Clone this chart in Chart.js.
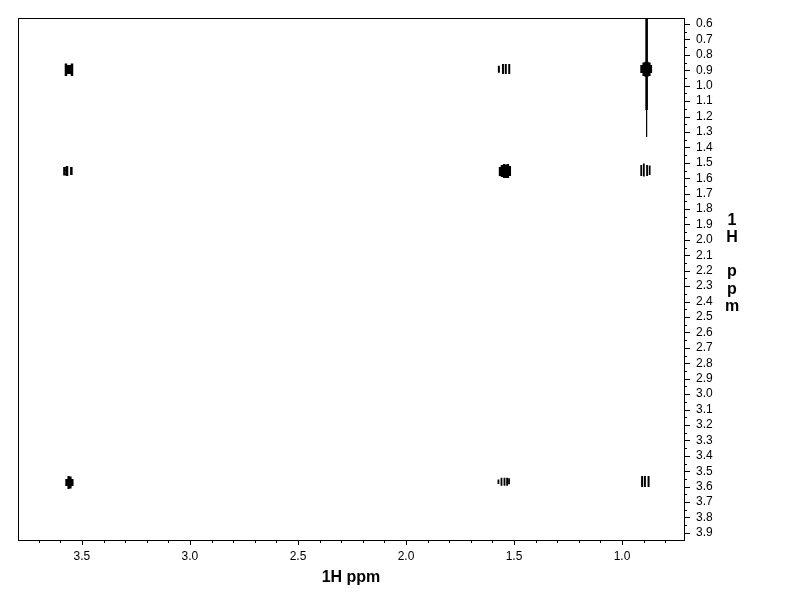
<!DOCTYPE html>
<html><head><meta charset="utf-8">
<script src="https://cdn.jsdelivr.net/npm/chart.js@4.4.1/dist/chart.umd.min.js"></script>
<style>html,body{margin:0;padding:0;background:#fff}#wrap{width:792px;height:612px;position:relative}</style>
</head><body><div id="wrap"><canvas id="c"></canvas></div>
<script>
// ---- Axis ranges (ppm) ----
const xRange = [0.713, 3.796];   // F2, reversed
const yRange = [0.561, 3.946];   // F1, reversed
const xTitle = '1H ppm';
const yTitle = '1H ppm';

// ---- Cross / diagonal peaks: contour bars [x ppm, y start ppm, y end ppm] ----
const peak356_090 = [[3.574,0.856,0.937],[3.565,0.866,0.924],[3.556,0.866,0.924],[3.546,0.856,0.937]];
const peak356_155 = [[3.581,1.527,1.582],[3.569,1.521,1.586],[3.549,1.527,1.579]];
const peak356_357 = [[3.572,3.551,3.596],[3.562,3.531,3.616],[3.553,3.535,3.612],[3.544,3.551,3.596]];
const peak154_090 = [[1.570,0.870,0.916],[1.551,0.859,0.924],[1.538,0.859,0.924],[1.522,0.859,0.924]];
const peak154_155 = [[1.565,1.527,1.586],[1.556,1.514,1.592],[1.546,1.508,1.599],[1.537,1.511,1.599],[1.528,1.508,1.599],[1.519,1.521,1.586]];
const peak154_357 = [[1.572,3.553,3.583],[1.558,3.542,3.594],[1.544,3.542,3.594],[1.532,3.542,3.594],[1.523,3.546,3.585]];
const peak089_090 = [[0.910,0.866,0.918],[0.900,0.850,0.937],[0.891,0.844,0.942],[0.882,0.844,0.942],[0.873,0.850,0.937],[0.866,0.866,0.918]];
const peak089_155 = [[0.911,1.514,1.586],[0.899,1.505,1.589],[0.884,1.514,1.586],[0.872,1.518,1.579]];
const peak089_357 = [[0.907,3.531,3.603],[0.894,3.531,3.603],[0.877,3.531,3.603]];
// t1 noise streak at 0.89 ppm
const streakThick = [[0.886,0.561,1.158]];
const streakThin  = [[0.886,1.158,1.333]];

function bars(rows){
  const out=[];
  rows.forEach(r=>{ out.push({x:r[0],y:r[1]}); out.push({x:r[0],y:r[2]}); out.push({x:r[0],y:null}); });
  return out;
}
function ds(rows,w){
  return {data:bars(rows),showLine:true,spanGaps:false,borderColor:'#000',backgroundColor:'#000',
          borderWidth:w,pointRadius:0,pointHoverRadius:0,fill:false,borderCapStyle:'butt'};
}
const datasets=[
  ds(peak356_090,2.5), ds(peak356_155,2.5), ds(peak356_357,2.2),
  ds(peak154_090,2.0), ds(peak154_155,2.3), ds(peak154_357,1.8),
  ds(peak089_090,2.3), ds(peak089_155,1.8), ds(peak089_357,2.0),
  ds(streakThick,2.6), ds(streakThin,1.2)
];

const FONT='"Liberation Sans", Arial, sans-serif';
Chart.defaults.font.family=FONT;
Chart.defaults.color='#000';

const decor={
  id:'decor',
  afterDraw(chart){
    const ctx=chart.ctx, a=chart.chartArea, xs=chart.scales.x, ys=chart.scales.y;
    ctx.save();
    ctx.strokeStyle='#000'; ctx.lineWidth=1;
    ctx.strokeRect(a.left+0.5,a.top+0.5,a.right-a.left,a.bottom-a.top);
    ctx.beginPath();
    xs.ticks.forEach(t=>{
      const px=Math.round(xs.getPixelForValue(t.value))+0.5;
      const len=(t.label!=='')?5:3;
      ctx.moveTo(px,a.bottom); ctx.lineTo(px,a.bottom+len);
    });
    ys.ticks.forEach(t=>{
      const py=Math.round(ys.getPixelForValue(t.value))+0.5;
      const len=(t.label!=='')?6:3;
      ctx.moveTo(a.right,py); ctx.lineTo(a.right+len,py);
    });
    ctx.stroke();
    // right-side stacked axis title
    ctx.fillStyle='#000'; ctx.font='bold 16px '+FONT; ctx.textAlign='center'; ctx.textBaseline='alphabetic';
    const chars=yTitle.split('');
    let base=224.5;
    chars.forEach(ch=>{ if(ch!==' ') ctx.fillText(ch,732,base); base+=17.3; });
    ctx.restore();
  }
};

new Chart(document.getElementById('c'),{
  type:'scatter',
  data:{datasets},
  options:{
    responsive:true, maintainAspectRatio:false, animation:false, events:[],
    layout:{padding:{left:18,top:18,right:0,bottom:0}},
    plugins:{legend:{display:false},tooltip:{enabled:false}},
    scales:{
      x:{type:'linear',position:'bottom',reverse:true,min:xRange[0],max:xRange[1],
         grid:{display:false,drawTicks:false,tickLength:0},border:{display:false},
         ticks:{stepSize:0.1,autoSkip:false,maxTicksLimit:1000,includeBounds:false,maxRotation:0,padding:9,
                font:{size:12},color:'#000',
                callback:(v)=>{const h=v*2; return Math.abs(h-Math.round(h))<1e-6? v.toFixed(1):'';}},
         title:{display:true,text:xTitle,font:{size:16,weight:'bold'},color:'#000',padding:{top:0,bottom:25}},
         afterFit:(s)=>{s.height=72; s.paddingLeft=0; s.paddingRight=0;}},
      y:{type:'linear',position:'right',reverse:true,min:yRange[0],max:yRange[1],
         grid:{display:false,drawTicks:false,tickLength:0},border:{display:false},
         ticks:{stepSize:0.05,autoSkip:false,maxTicksLimit:1000,includeBounds:false,padding:12,
                font:{size:12},color:'#000',
                callback:(v)=>{const h=v*10; return Math.abs(h-Math.round(h))<1e-6? v.toFixed(1):'';}},
         afterFit:(s)=>{s.width=108; s.paddingTop=0; s.paddingBottom=0;}}
    }
  },
  plugins:[decor]
});
</script></body></html>
